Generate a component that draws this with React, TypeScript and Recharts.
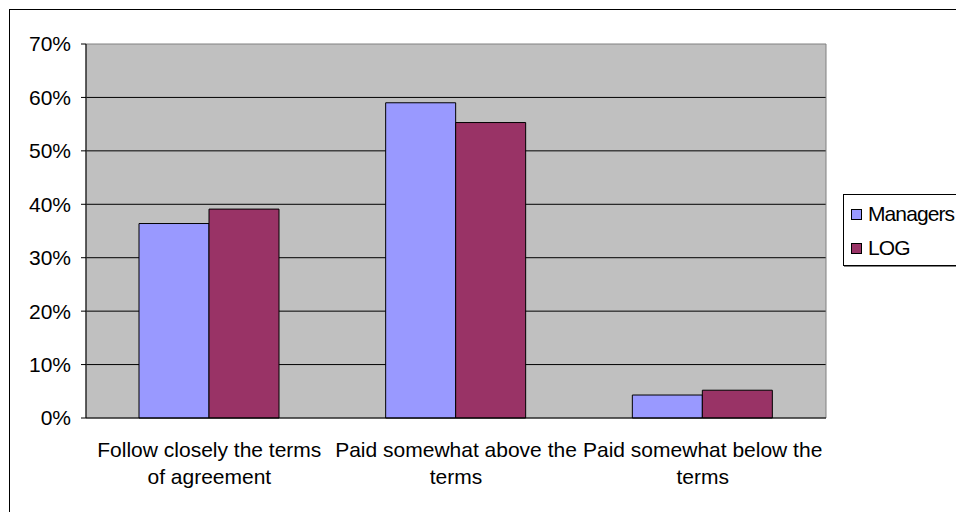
import React from 'react';
import { BarChart, Bar, XAxis, YAxis, CartesianGrid, ReferenceArea } from 'recharts';

const FONT = '"Liberation Sans", Arial, sans-serif';

const categories = [
  'Follow closely the terms\nof agreement',
  'Paid somewhat above the\nterms',
  'Paid somewhat below the\nterms',
];
const managers = [36.4, 59.0, 4.3];
const logValues = [39.1, 55.3, 5.2];
const yTicks = [0, 10, 20, 30, 40, 50, 60, 70];
const gridValues = [10, 20, 30, 40, 50, 60];
const boundaryTicks = [0, 1, 2, 3];
const seriesNames = ['Managers', 'LOG'];
const seriesColors = ['#9999FF', '#993366'];

const data = categories.map((c, i) => ({
  category: c,
  Managers: managers[i],
  LOG: logValues[i],
}));

const CatTick = (props: any) => {
  const { x, y, payload } = props;
  const lines = String(payload.value).split('\n');
  return (
    <text x={x} y={y} textAnchor="middle" fill="#000" fontSize={21} fontFamily={FONT}>
      {lines.map((l, i) => (
        <tspan key={i} x={x} dy={i === 0 ? 38 : 27}>
          {l}
        </tspan>
      ))}
    </text>
  );
};

export default function App() {
  return (
    <div
      style={{
        position: 'fixed',
        left: 0,
        top: 0,
        width: 956,
        height: 512,
        overflow: 'hidden',
        fontFamily: FONT,
        background: '#fff',
      }}
    >
      <div
        style={{
          position: 'absolute',
          left: 9,
          top: 9,
          width: 2000,
          height: 2000,
          border: '1px solid #000',
          boxSizing: 'border-box',
        }}
      />
      <div style={{ position: 'absolute', left: 8, top: 8 }}>
        <BarChart
          width={948}
          height={496}
          data={data}
          margin={{ top: 36, right: 130, left: 0, bottom: 5 }}
          barSize={70}
          barGap={0}
        >
          <CartesianGrid
            xAxisId="cat"
            vertical={false}
            fill="#C0C0C0"
            fillOpacity={1}
            stroke="#000"
            horizontalValues={gridValues}
          />
          <ReferenceArea xAxisId="cat" y1={0} y2={70} fill="none" stroke="#808080" strokeWidth={1} ifOverflow="visible" />
          <XAxis
            xAxisId="b"
            type="number"
            domain={[0, 3]}
            ticks={boundaryTicks}
            allowDataOverflow
            tick={false}
            tickSize={6}
            height={1}
            axisLine={{ stroke: '#000' }}
            tickLine={{ stroke: '#000' }}
          />
          <XAxis
            xAxisId="cat"
            dataKey="category"
            axisLine={false}
            tickLine={false}
            tickSize={0}
            tickMargin={0}
            height={80}
            interval={0}
            tick={<CatTick />}
          />
          <YAxis
            width={78}
            domain={[0, 70]}
            ticks={yTicks}
            tickFormatter={(v: number) => `${v}%`}
            tickSize={5}
            tickMargin={10}
            axisLine={{ stroke: '#000' }}
            tickLine={{ stroke: '#000' }}
            tick={{ fill: '#000', fontSize: 21, fontFamily: FONT }}
          />
          {seriesNames.map((name, i) => (
            <Bar
              key={name}
              xAxisId="cat"
              dataKey={name}
              fill={seriesColors[i]}
              stroke="#000"
              strokeWidth={1}
              isAnimationActive={false}
            />
          ))}
        </BarChart>
      </div>
      <div
        style={{
          position: 'absolute',
          left: 843,
          top: 194,
          width: 140,
          height: 72,
          border: '1px solid #000',
          boxShadow: '1px 1px 0 #808080',
          background: '#fff',
          boxSizing: 'border-box',
        }}
      >
        {seriesNames.map((name, i) => (
          <div
            key={name}
            style={{
              position: 'absolute',
              left: 7,
              top: 8 + i * 34,
              height: 22,
              display: 'flex',
              alignItems: 'center',
              whiteSpace: 'nowrap',
            }}
          >
            <span
              style={{
                display: 'inline-block',
                width: 9,
                height: 9,
                background: seriesColors[i],
                border: '1px solid #000',
                marginRight: 6,
              }}
            />
            <span style={{ fontSize: 21, color: '#000', lineHeight: '22px', letterSpacing: -0.9 }}>{name}</span>
          </div>
        ))}
      </div>
    </div>
  );
}
